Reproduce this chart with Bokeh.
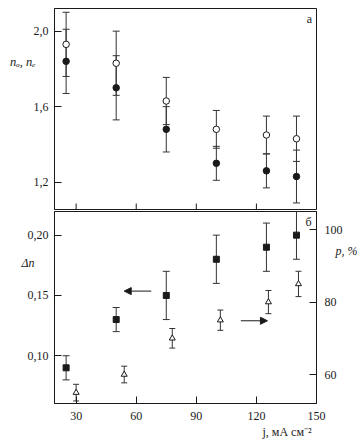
import math
from bokeh.plotting import figure
from bokeh.models import (Range1d, LinearAxis, FixedTicker, CustomJSTickFormatter,
                          ColumnDataSource, Whisker, TeeHead, Label, Arrow, NormalHead)
from bokeh.layouts import column
from bokeh.embed import file_html
from bokeh.resources import INLINE

# ---- data ----
j_n = [25, 50, 75, 100, 125, 140]
n_open = [1.93, 1.83, 1.63, 1.48, 1.45, 1.43]
n_open_err = [0.17, 0.17, 0.125, 0.10, 0.10, 0.12]
n_fill = [1.84, 1.70, 1.48, 1.30, 1.26, 1.23]
n_fill_err = [0.17, 0.17, 0.12, 0.09, 0.09, 0.14]

j_dn = [25, 50, 75, 100, 125, 140]
dn = [0.09, 0.13, 0.15, 0.18, 0.19, 0.20]
dn_err = [0.01, 0.01, 0.02, 0.02, 0.02, 0.02]

j_p = [30, 54, 78, 102, 126, 141]
p_val = [55.0, 60.0, 70.0, 75.0, 80.0, 85.0]
p_err = [2.3, 2.3, 2.7, 2.8, 3.2, 3.5]

x_ticks = [30, 60, 90, 120, 150]
n_ticks = [1.2, 1.6, 2.0]
dn_ticks = [0.10, 0.15, 0.20]
p_ticks = [60, 80, 100]

FONT = "Liberation Serif"
FS = "12px"
INK = "#1a1a1a"

xr = Range1d(19.2, 150)

def style_axis(ax, fmt=None):
    ax.major_tick_in = 7
    ax.major_tick_out = 0
    ax.minor_tick_line_color = None
    ax.major_label_text_font = FONT
    ax.major_label_text_font_size = FS
    ax.major_label_text_color = INK
    ax.axis_line_color = INK
    ax.major_tick_line_color = INK
    if fmt is not None:
        ax.formatter = fmt

def text_axis(where_val, text, standoff, size="12px", italic=True, range_name=None):
    """An axis used only to place one text beside the frame (no line, no tick)."""
    kw = {} if range_name is None else {"y_range_name": range_name}
    a = LinearAxis(ticker=FixedTicker(ticks=[where_val]),
                   formatter=CustomJSTickFormatter(code="return %r" % text), **kw)
    a.major_tick_line_color = None
    a.minor_tick_line_color = None
    a.axis_line_color = None
    a.major_tick_in = 0
    a.major_tick_out = 0
    a.major_label_standoff = standoff
    a.major_label_text_font = FONT
    a.major_label_text_font_size = size
    a.major_label_text_font_style = "italic" if italic else "normal"
    a.major_label_text_color = INK
    return a

def whiskers(p, x, y, e, head=7, range_name="default"):
    src = ColumnDataSource(dict(x=x, lo=[a - b for a, b in zip(y, e)],
                                hi=[a + b for a, b in zip(y, e)]))
    w = Whisker(source=src, base="x", lower="lo", upper="hi", dimension="height",
                line_color="#333333", line_width=1,
                lower_head=TeeHead(size=head, line_color="#333333", line_width=1),
                upper_head=TeeHead(size=head, line_color="#333333", line_width=1),
                y_range_name=range_name)
    p.add_layout(w)

# ---- top panel (frame 54..317 x 8..210) ----
p1 = figure(width=360, height=210, x_range=xr, y_range=Range1d(1.05, 2.12),
            output_backend="svg", toolbar_location=None,
            min_border_left=54, min_border_right=43, min_border_top=8, min_border_bottom=0,
            x_axis_location=None, y_axis_location=None)
p1.outline_line_color = INK
p1.xgrid.visible = False
p1.ygrid.visible = False

ax = LinearAxis(ticker=FixedTicker(ticks=n_ticks))
style_axis(ax, CustomJSTickFormatter(code="return tick.toFixed(1).replace('.', ',')"))
ax.major_label_standoff = 6
p1.add_layout(ax, "left")
p1.add_layout(text_axis(1.834, "nₒ, nₑ", -5, size="12.5px"), "left")

# inward tick marks on the lower edge of the upper panel
p1.scatter(x_ticks[:-1], [p1.y_range.start] * 4, marker="dash", size=14, angle=math.pi / 2,
           line_color=INK, line_width=1)

whiskers(p1, j_n, n_open, n_open_err)
whiskers(p1, j_n, n_fill, n_fill_err)
p1.scatter(j_n, n_open, marker="circle", size=6.5, fill_color="white", line_color=INK, line_width=1)
p1.scatter(j_n, n_fill, marker="circle", size=6.5, fill_color=INK, line_color=INK)

p1.add_layout(Label(x=146.5, y=2.062, text="a", text_font=FONT, text_font_size=FS,
                    text_align="center", text_baseline="middle", text_color=INK))

# ---- bottom panel (frame 54..317 x 211..403) ----
p2 = figure(width=360, height=234, x_range=xr, y_range=Range1d(0.0604, 0.2196),
            output_backend="svg", toolbar_location=None,
            min_border_left=54, min_border_right=43, min_border_top=1, min_border_bottom=41,
            x_axis_location=None, y_axis_location=None)
p2.extra_y_ranges = {"p": Range1d(52, 105)}
p2.outline_line_color = INK
p2.xgrid.visible = False
p2.ygrid.visible = False

lx = LinearAxis(ticker=FixedTicker(ticks=x_ticks))
style_axis(lx)
lx.major_label_standoff = 8
p2.add_layout(lx, "below")
p2.add_layout(text_axis(135.3, "j, мА см⁻²", 2, italic=False), "below")

ly = LinearAxis(ticker=FixedTicker(ticks=dn_ticks))
style_axis(ly, CustomJSTickFormatter(code="return tick.toFixed(2).replace('.', ',')"))
ly.major_label_standoff = 6
p2.add_layout(ly, "left")
p2.add_layout(text_axis(0.1773, "Δn", -10), "left")

ry = LinearAxis(ticker=FixedTicker(ticks=p_ticks), y_range_name="p")
style_axis(ry)
ry.major_label_standoff = 8
p2.add_layout(ry, "right")
p2.add_layout(text_axis(94.0, "p, %", -10, range_name="p"), "right")

whiskers(p2, j_dn, dn, dn_err)
whiskers(p2, j_p, p_val, p_err, head=6, range_name="p")
p2.scatter(j_dn, dn, marker="square", size=6, fill_color=INK, line_color=INK)
p2.scatter(j_p, p_val, marker="triangle", size=6, fill_color="white", line_color=INK,
           line_width=1, y_range_name="p")

p2.add_layout(Arrow(x_start=67.5, y_start=0.1536, x_end=54, y_end=0.1536,
                    line_color=INK, line_width=1,
                    end=NormalHead(size=7, fill_color=INK, line_color=INK)))
p2.add_layout(Arrow(x_start=112.2, y_start=0.129, x_end=125.5, y_end=0.129,
                    line_color=INK, line_width=1,
                    end=NormalHead(size=7, fill_color=INK, line_color=INK)))

p2.add_layout(Label(x=146.0, y=0.2113, text="б", text_font=FONT, text_font_size=FS,
                    text_align="center", text_baseline="middle", text_color=INK))

layout = column(p1, p2)
open("out.html", "w").write(file_html(layout, INLINE))
